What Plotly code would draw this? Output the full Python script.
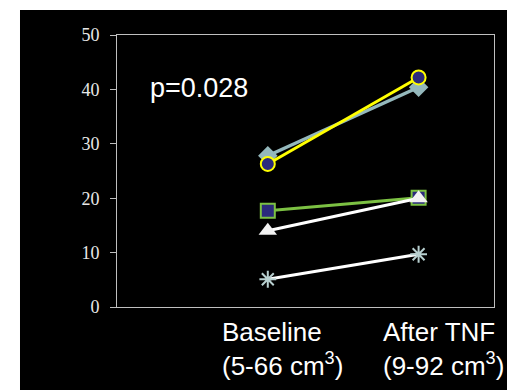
import plotly.graph_objects as go

categories = ["Baseline", "After TNF"]
cat_labels = ["Baseline<br>(5-66 cm<sup>3</sup>)", "After TNF<br>(9-92 cm<sup>3</sup>)"]
s_diamond = [27.8, 40.4]
s_circle = [26.3, 42.2]
s_square = [17.7, 20.1]
s_triangle = [14.0, 20.0]
s_star = [5.1, 9.7]
y_ticks = [0, 10, 20, 30, 40, 50]
p_text = "p=0.028"

fig = go.Figure()
fig.add_trace(go.Scatter(x=categories, y=s_diamond, mode="lines+markers",
    line=dict(color="#94b8bc", width=3.5),
    marker=dict(symbol="diamond", size=15, color="#94b8bc")))
fig.add_trace(go.Scatter(x=categories, y=s_circle, mode="lines+markers",
    line=dict(color="#ffff00", width=3),
    marker=dict(symbol="circle", size=14, color="#2b2a7c", line=dict(color="#ffff00", width=2))))
fig.add_trace(go.Scatter(x=categories, y=s_square, mode="lines+markers",
    line=dict(color="#7cc143", width=3),
    marker=dict(symbol="square", size=14, color="#2b2a7c", line=dict(color="#7cc143", width=2))))
fig.add_trace(go.Scatter(x=categories, y=s_triangle, mode="lines+markers",
    line=dict(color="#ffffff", width=3),
    marker=dict(symbol="triangle-up", size=16, color="#f2f2f2")))
fig.add_trace(go.Scatter(x=categories, y=s_star, mode="lines+markers",
    line=dict(color="#ffffff", width=3),
    marker=dict(symbol="asterisk-open", size=14, color="#b8d0d0", line=dict(color="#b8d0d0", width=2))))

label_shift = [-48, -38]
for c, t, sh in zip(categories, cat_labels, label_shift):
    fig.add_annotation(x=c, y=0, xref="x", yref="y", text=t, showarrow=False,
        xanchor="left", yanchor="top", align="left", xshift=sh, yshift=-8,
        font=dict(family="Liberation Sans, Arial", size=26, color="#ffffff"))

fig.add_annotation(x=0.082, y=40.3, xref="paper", yref="y", text=p_text, showarrow=False,
    xanchor="left", yanchor="middle",
    font=dict(family="Liberation Sans, Arial", size=27, color="#ffffff"))

fig.add_shape(type="rect", xref="paper", yref="paper", x0=-0.2573, x1=1.04, y0=-0.31, y1=1.0919,
    fillcolor="#000000", line=dict(width=0), layer="below")

fig.update_layout(
    width=507, height=390,
    margin=dict(l=117, r=13, t=35, b=83),
    paper_bgcolor="#ffffff", plot_bgcolor="#000000",
    showlegend=False,
    xaxis=dict(type="category", range=[-1, 1.5], showticklabels=False, showgrid=False,
               zeroline=False, showline=True, linecolor="#bfbfbf", linewidth=1, mirror=True,
               ticks=""),
    yaxis=dict(range=[0, 50], tickvals=y_ticks, showgrid=False, zeroline=False,
               showline=True, linecolor="#bfbfbf", linewidth=1, mirror=True,
               ticks="outside", ticklen=6, tickcolor="#bfbfbf", ticklabelstandoff=7,
               tickfont=dict(family="Liberation Serif, Times New Roman", size=18, color="#e8e8e8")),
)
fig.write_html("out.html", config={"displayModeBar": False},
               post_script="document.body.style.margin='0';document.body.style.overflow='hidden';")
